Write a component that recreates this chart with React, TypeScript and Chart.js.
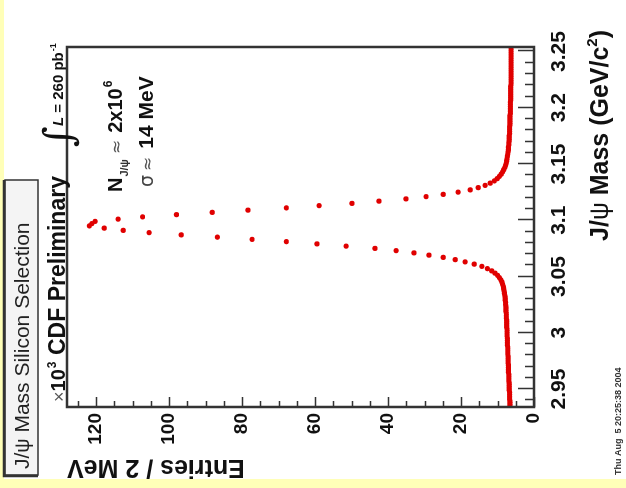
import React, { useEffect, useRef } from "react";
import { Chart, registerables } from "chart.js";

Chart.register(...registerables);

// ---- data ----
const MASS_MIN = 2.934;
const MASS_MAX = 3.254;
const BIN_WIDTH = 0.002;
const ENTRIES_MAX = 128;

const MASS_TICKS = [2.95, 3, 3.05, 3.1, 3.15, 3.2, 3.25];
const ENTRY_TICKS = [0, 20, 40, 60, 80, 100, 120];

// entries (x10^3) per 2 MeV bin, bins 2.934-3.050
const ENTRIES_LOW = [
  6.6, 6.6, 6.6, 6.7, 6.7, 6.7, 6.7, 6.8, 6.8, 6.8, 6.8, 6.9, 6.9, 6.9, 6.9, 7.0, 7.0,
  7.0, 7.0, 7.1, 7.1, 7.1, 7.1, 7.2, 7.2, 7.2, 7.2, 7.3, 7.3, 7.3, 7.3, 7.4, 7.4,
  7.4, 7.4, 7.5, 7.5, 7.5, 7.5, 7.6, 7.6, 7.6, 7.7, 7.7, 7.7, 7.8, 7.8, 7.9, 7.9,
  8.0, 8.1, 8.2, 8.3, 8.4, 8.6, 8.8, 9.1, 9.5,
];
// bins 3.050-3.150
const ENTRIES_PEAK = [
  10.0, 10.7, 11.6, 12.8, 14.3, 16.4, 18.9, 21.6, 24.9, 28.8, 32.9, 37.8, 43.6, 51.5,
  59.5, 67.9, 77.3, 86.8, 96.7, 105.5, 112.6, 117.8, 121.9, 121.2, 120.3, 114, 107.3,
  98, 88.2, 78.4, 67.9, 58.9, 49.9, 42.5, 35.1, 29.6, 24.9, 20.8, 17.5, 15.3, 13.4,
  12.0, 10.9, 10.1, 9.5, 9.0, 8.6, 8.3, 8.0, 7.8,
];
// bins 3.150-3.254
const ENTRIES_HIGH = [
  7.6, 7.5, 7.4, 7.3, 7.2, 7.1, 7.0, 7.0, 6.9, 6.9, 6.8, 6.8, 6.8, 6.7, 6.7, 6.7, 6.7,
  6.6, 6.6, 6.6, 6.6, 6.6, 6.5, 6.5, 6.5, 6.5, 6.5, 6.5, 6.4, 6.4, 6.4, 6.4, 6.4, 6.4,
  6.4, 6.3, 6.3, 6.3, 6.3, 6.3, 6.3, 6.3, 6.3, 6.3, 6.3, 6.3, 6.3, 6.3, 6.3, 6.3, 6.3, 6.3,
];

const ENTRIES = [...ENTRIES_LOW, ...ENTRIES_PEAK, ...ENTRIES_HIGH];

// ---- style ----
const FONT = '"Liberation Sans", Arial, Helvetica, sans-serif';
const RED = "#e00000";
const FRAME = "#333333";
const YELLOW = "#ffffb8";

const W = 488; // original (unrotated) canvas width
const H = 626; // original canvas height

function text(
  ctx: CanvasRenderingContext2D,
  s: string,
  x: number,
  y: number,
  font: string,
  color = "#111",
  align: CanvasTextAlign = "left",
  baseline: CanvasTextBaseline = "alphabetic"
) {
  ctx.font = font;
  ctx.fillStyle = color;
  ctx.textAlign = align;
  ctx.textBaseline = baseline;
  ctx.fillText(s, x, y);
  return ctx.measureText(s).width;
}

const decor = {
  id: "decor",
  afterDraw(chart: any) {
    const ctx: CanvasRenderingContext2D = chart.ctx;
    const a = chart.chartArea;
    const xs = chart.scales.x;
    const ys = chart.scales.y;
    ctx.save();

    // frame
    ctx.strokeStyle = FRAME;
    ctx.lineWidth = 2.5;
    ctx.strokeRect(a.left, a.top, a.right - a.left, a.bottom - a.top);

    // ticks (inside)
    ctx.lineWidth = 1.5;
    ctx.beginPath();
    for (let v = 0; v <= ENTRIES_MAX; v += 5) {
      const py = Math.round(ys.getPixelForValue(v)) + 0.5;
      const len = v % 20 === 0 ? 10 : 6;
      ctx.moveTo(a.left, py);
      ctx.lineTo(a.left + len, py);
    }
    for (let k = 0; k <= 31; k++) {
      const m = 2.94 + 0.01 * k;
      const px = Math.round(xs.getPixelForValue(m)) + 0.5;
      const len = k % 5 === 1 ? 16 : 9;
      ctx.moveTo(px, a.bottom);
      ctx.lineTo(px, a.bottom - len);
    }
    ctx.stroke();

    // title box
    ctx.fillStyle = "#f4f4f4";
    ctx.fillRect(13, 5, 295, 33);
    ctx.strokeStyle = "#333";
    ctx.lineWidth = 1.5;
    ctx.strokeRect(13, 5, 295, 33);
    ctx.lineWidth = 2.5;
    ctx.beginPath();
    ctx.moveTo(12, 38);
    ctx.lineTo(12, 4);
    ctx.lineTo(308, 4);
    ctx.stroke();
    let u = 19;
    u += text(ctx, "J/", u, 29, `21px ${FONT}`, "#222");
    u += text(ctx, "ψ", u, 29, `20px ${FONT}`, "#222");
    text(ctx, " Mass Silicon Selection", u, 29, `21px ${FONT}`, "#222");

    // y axis title (reads bottom to top, aligned to top end)
    ctx.save();
    ctx.translate(21, 67);
    ctx.rotate(-Math.PI / 2);
    text(ctx, "Entries / 2 MeV", 0, 0, `bold 25px ${FONT}`, "#111", "right", "middle");
    ctx.restore();

    // x10^3
    u = 86;
    u += text(ctx, "×", u, 65, `18px ${FONT}`, "#555");
    u += text(ctx, "10", u, 65, `bold 20px ${FONT}`);
    text(ctx, "3", u + 1, 56, `bold 12px ${FONT}`);

    // CDF Preliminary
    text(ctx, "CDF Preliminary", 133, 65, `bold 23px ${FONT}`);

    // integral L
    text(ctx, "∫", 341, 72, `italic 40px "DejaVu Serif", serif`, "#111");
    u = 362;
    u += text(ctx, "L", u, 63, `bold italic 15px ${FONT}`);
    u += text(ctx, " = 260 pb", u, 63, `bold 15px ${FONT}`);
    text(ctx, "-1", u + 1, 56, `bold 9px ${FONT}`);

    // N J/psi
    u = 296;
    u += text(ctx, "N", u, 122, `bold 20px ${FONT}`);
    u += text(ctx, "J/ψ", u + 1, 128, `bold 11px ${FONT}`, "#333");
    u += 6;
    u += text(ctx, "≈", u, 122, `17px "DejaVu Sans", sans-serif`, "#555");
    u += 7;
    u += text(ctx, "2x10", u, 122, `bold 20px ${FONT}`);
    text(ctx, "6", u + 1, 112, `bold 12px ${FONT}`);

    // sigma
    u = 301;
    u += text(ctx, "σ", u, 153, `19px "DejaVu Sans", sans-serif`, "#444");
    u += 4;
    u += text(ctx, "≈", u, 153, `17px "DejaVu Sans", sans-serif`, "#555");
    u += 8;
    text(ctx, "14 MeV", u, 153, `bold 21px ${FONT}`);

    // x axis title, right aligned at end
    const f1 = `bold 25px ${FONT}`;
    const fPsi = `25px ${FONT}`;
    const fSup = `bold 15px ${FONT}`;
    ctx.font = f1;
    const wJ = ctx.measureText("J/").width;
    const wRest = ctx.measureText(" Mass (GeV/c").width;
    const wClose = ctx.measureText(")").width;
    ctx.font = fPsi;
    const wPsi = ctx.measureText("ψ").width;
    ctx.font = fSup;
    const w2 = ctx.measureText("2").width;
    const total = wJ + wPsi + wRest + w2 + wClose;
    u = 458 - total;
    const bl = 608;
    u += text(ctx, "J/", u, bl, f1);
    u += text(ctx, "ψ", u, bl, fPsi);
    u += text(ctx, " Mass (GeV/c", u, bl, f1);
    u += text(ctx, "2", u, bl - 11, fSup);
    text(ctx, ")", u, bl, f1);

    // date stamp
    text(ctx, "Thu Aug  5 20:25:38 2004", 13, 621, `bold 9px ${FONT}`, "#333");

    ctx.restore();
  },
};

export default function App() {
  const ref = useRef<HTMLCanvasElement>(null);

  useEffect(() => {
    document.body.style.margin = "0";
    const canvas = ref.current;
    if (!canvas) return;
    const points = ENTRIES.map((v, i) => ({ x: MASS_MIN + BIN_WIDTH * (i + 0.5), y: v }));
    const chart = new Chart(canvas, {
      type: "scatter",
      data: {
        datasets: [
          {
            data: points,
            pointRadius: 2.6,
            pointBackgroundColor: RED,
            pointBorderWidth: 0,
            showLine: false,
          },
        ],
      },
      options: {
        responsive: false,
        animation: false,
        devicePixelRatio: 1,
        layout: { padding: { left: 0, right: 47, top: 67, bottom: 0 } },
        plugins: { legend: { display: false }, tooltip: { enabled: false } },
        scales: {
          x: {
            type: "linear",
            position: "bottom",
            min: MASS_MIN,
            max: MASS_MAX,
            afterBuildTicks: (s: any) => {
              s.ticks = MASS_TICKS.map((value) => ({ value }));
            },
            afterFit: (s: any) => {
              s.height = 92;
            },
            grid: { display: false, drawTicks: false },
            border: { display: false },
            ticks: {
              autoSkip: false,
              maxRotation: 0,
              minRotation: 0,
              padding: 13,
              color: "#111",
              font: { family: FONT, size: 21, weight: "bold" },
              callback: (v: any) => String(+Number(v).toFixed(2)),
            },
          },
          y: {
            type: "linear",
            min: 0,
            max: ENTRIES_MAX,
            afterBuildTicks: (s: any) => {
              s.ticks = ENTRY_TICKS.map((value) => ({ value }));
            },
            afterFit: (s: any) => {
              s.width = 81;
            },
            grid: { display: false, drawTicks: false },
            border: { display: false },
            ticks: {
              autoSkip: false,
              padding: 6,
              color: "#111",
              font: { family: FONT, size: 19, weight: "bold" },
              callback: (v: any) => String(v),
            },
          },
        },
      },
      plugins: [decor],
    });
    return () => chart.destroy();
  }, []);

  return (
    <div style={{ position: "relative", width: 626, height: 488, background: YELLOW, overflow: "hidden" }}>
      <div style={{ position: "absolute", left: 4, top: 0, width: 622, height: 479, background: "#ffffff" }} />
      <div
        style={{
          position: "absolute",
          left: 0,
          top: 0,
          width: W,
          height: H,
          transformOrigin: "0 0",
          transform: `translate(0px, ${W}px) rotate(-90deg)`,
        }}
      >
        <canvas ref={ref} width={W} height={H} style={{ width: W, height: H, display: "block" }} />
      </div>
    </div>
  );
}
